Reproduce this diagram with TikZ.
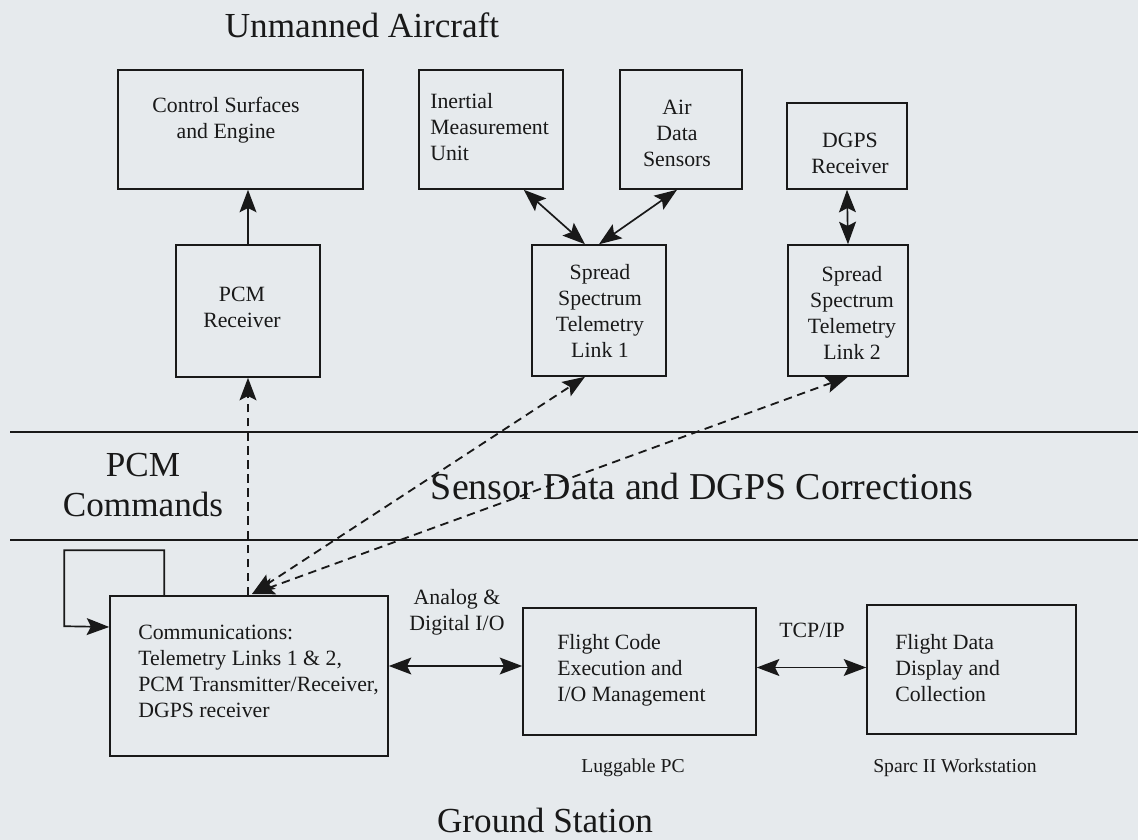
\documentclass[tikz,border=0pt]{standalone}
\usepackage{fontspec}
\setmainfont{Liberation Serif}
\usetikzlibrary{arrows.meta, fit}

\definecolor{paper}{RGB}{230,234,237}
\definecolor{ink}{RGB}{25,25,25}

\tikzset{
    box/.style={draw=ink, line width=1.1pt, inner sep=0pt},
    txt/.style={text=ink, inner sep=0pt, font=\fontsize{15.5}{18.5}\selectfont},
    small/.style={text=ink, inner sep=0pt, font=\fontsize{14}{17}\selectfont},
    big/.style={text=ink, inner sep=0pt, font=\fontsize{25}{29}\selectfont},
    rule/.style={draw=ink, line width=1.5pt},
    dashline/.style={line width=1.3pt, dash pattern=on 6pt off 4pt},
    arr/.style={draw=ink, line width=1.2pt, -{Stealth[length=16pt, width=12pt, inset=3pt]}},
    darr/.style={draw=ink, line width=1.2pt,
        {Stealth[length=16pt, width=12pt, inset=3pt]}-{Stealth[length=16pt, width=12pt, inset=3pt]}}
}

\begin{document}
\begin{tikzpicture}[x=0.025cm, y=-0.025cm]
    \fill[paper] (0,0) rectangle (1138,840);
    \useasboundingbox (0,0) rectangle (1138,840);

    % aircraft side
    \node[box, fit={(118,70) (363,189)}] (ctrl) {};
    \node[box, fit={(419,70) (563,189)}] (imu) {};
    \node[box, fit={(620,70) (742,189)}] (air) {};
    \node[box, fit={(787,103) (907,189)}] (dgps) {};
    \node[box, fit={(176,245) (320,377)}] (pcmrx) {};
    \node[box, fit={(532,245) (666,376)}] (link1) {};
    \node[box, fit={(788,245) (908,376)}] (link2) {};

    % ground side
    \node[box, fit={(110,596) (388,756)}] (comm) {};
    \node[box, fit={(523,608) (756,735)}] (fcode) {};
    \node[box, fit={(867,605) (1076,734)}] (fdata) {};

    \node[txt, align=center] (ctrltxt) at (226,120) {Control Surfaces\\and Engine};
    \node[txt, align=left, anchor=west] (imutxt) at (430,127) {Inertial\\Measurement\\Unit};
    \node[txt, align=center] (airtxt) at (677,133) {Air\\Data\\Sensors};
    \node[txt, align=center] (dgpstxt) at (850,153) {DGPS\\Receiver};
    \node[txt, align=center] (pcmrxtxt) at (242,307) {PCM\\Receiver};
    \node[txt, align=center] (link1txt) at (600,311) {Spread\\Spectrum\\Telemetry\\Link 1};
    \node[txt, align=center] (link2txt) at (852,313) {Spread\\Spectrum\\Telemetry\\Link 2};
    \node[txt, align=left, anchor=west] (commtxt) at (138,671)
        {Communications:\\Telemetry Links 1 \& 2,\\PCM Transmitter/Receiver,\\DGPS receiver};
    \node[txt, align=left, anchor=west] (fcodetxt) at (557,670) {Flight Code\\Execution and\\I/O Management};
    \node[txt, align=left, anchor=west] (fdatatxt) at (895,668) {Flight Data\\Display and\\Collection};

    \node[txt, align=center] (analog) at (457,612) {Analog \&\\Digital I/O};
    \node[txt] (tcp) at (812,630) {TCP/IP};
    \node[small] (lug) at (633,768) {Luggable PC};
    \node[small] (sparc) at (955,768) {Sparc II Workstation};

    \node[big] (airtitle) at (362,25) {Unmanned Aircraft};
    \node[big] (gndtitle) at (545,820) {Ground Station};
    \node[big, align=center] (pcmcmd) at (143,485) {PCM\\Commands};
    \node[big, font=\fontsize{27}{31}\selectfont] (sensdata) at (702,487) {Sensor Data and DGPS Corrections};

    \draw[rule] (10,432) -- (1138,432);
    \draw[rule] (10,540) -- (1138,540);

    \draw[arr] (pcmrx.north) -- (pcmrx.north |- ctrl.south);
    \draw[darr] ([xshift=-1cm]imu.south east) -- ([xshift=-0.35cm]link1.north);
    \draw[darr] ([xshift=-0.1cm]air.south) -- (link1.north);
    \draw[darr] (dgps.south) -- (link2.north);

    % radio links
    \coordinate (hub) at (252,594);
    \draw[arr, dashline] (comm.north -| pcmrx.south) -- (pcmrx.south);
    \draw[darr, dashline] (hub) -- ([xshift=-0.35cm]link1.south);
    \draw[darr, dashline] (hub) -- (link2.south);

    \draw[arr] ([xshift=1.375cm]comm.north west) |- ++(-100,-45) -- ++(0,76)
        -- ([yshift=1.225cm]comm.west);
    \draw[darr] ([yshift=0.25cm]comm.east) -- ([yshift=0.25cm]comm.east -| fcode.west);
    \draw[darr] ([yshift=0.1cm]fcode.east) -- ([yshift=0.1cm]fcode.east -| fdata.west);
\end{tikzpicture}
\end{document}
